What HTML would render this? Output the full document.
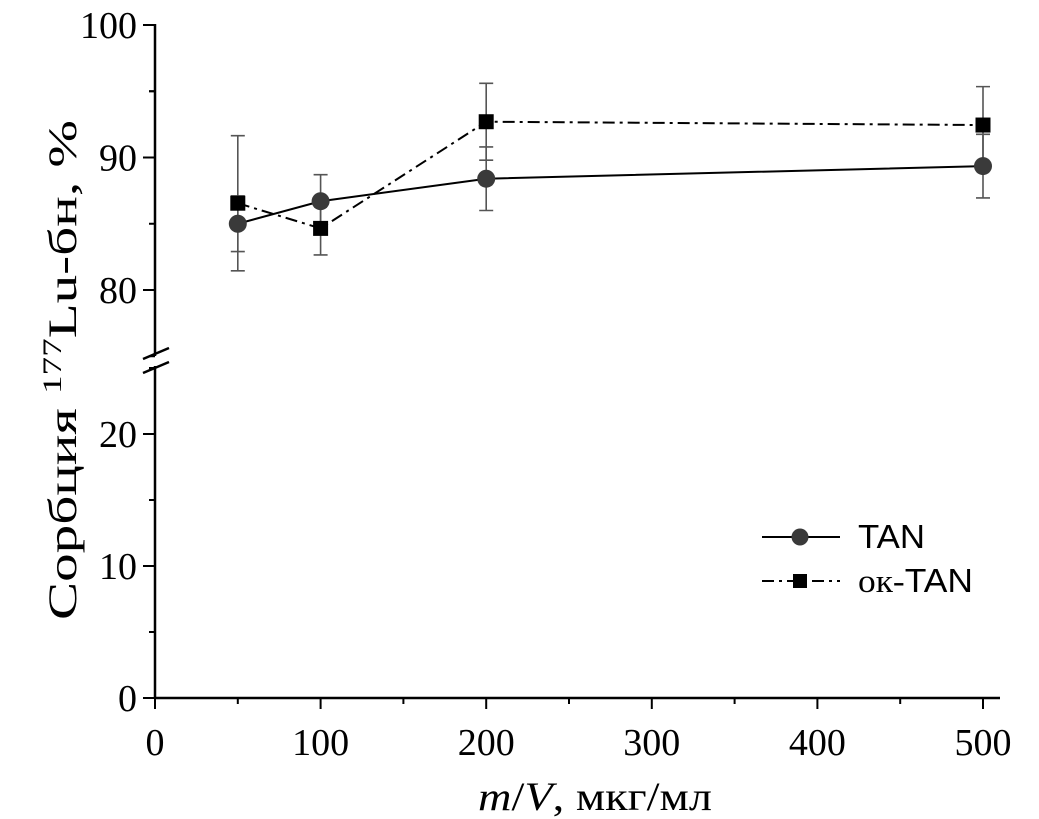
<!DOCTYPE html>
<html><head><meta charset="utf-8"><style>
html,body{margin:0;padding:0;background:#fff;}
svg{display:block;font-family:"Liberation Serif","DejaVu Serif",serif;}
</style></head><body>
<svg id="chart" width="1039" height="819" viewBox="0 0 1039 819" xmlns="http://www.w3.org/2000/svg">
<g id="axes"></g>
<g id="series"></g>
<text x="478" y="810" font-size="40" textLength="234" lengthAdjust="spacingAndGlyphs"><tspan font-style="italic">m</tspan>/<tspan font-style="italic">V</tspan>, мкг/мл</text>
<text transform="translate(76,620) rotate(-90)" font-size="40" textLength="500" lengthAdjust="spacingAndGlyphs">Сорбция <tspan font-size="26" dy="-15">177</tspan><tspan dy="15">Lu-бн, %</tspan></text>
<g>
<g>
<line x1="762" y1="537" x2="840" y2="537" stroke="#000" stroke-width="2"/>
<circle cx="800" cy="537" r="8.5" fill="#3a3a3a"/>
<text x="858" y="548" font-size="33" font-family="Liberation Sans, sans-serif" textLength="67" lengthAdjust="spacingAndGlyphs">TAN</text>
</g>
<g>
<line x1="762" y1="581" x2="840" y2="581" stroke="#000" stroke-width="2" stroke-dasharray="12,5,3,5"/>
<rect x="793" y="574" width="14" height="14" fill="#000"/>
<text x="858" y="592" font-size="33" textLength="115" lengthAdjust="spacingAndGlyphs">ок-<tspan font-family="Liberation Sans, sans-serif">TAN</tspan></text>
</g>
</g>
</svg>
<script>
const categories=[50,100,200,500];
const tanValues=[85.0,86.7,88.4,89.35];
const tanErrors=[2.1,2.0,2.4,2.4];
const okTanValues=[86.55,84.65,92.7,92.45];
const okTanErrors=[5.1,2.0,2.9,2.9];
const xTicks=[0,100,200,300,400,500];
const yTicksLow=[0,10,20];
const yTicksHigh=[80,90,100];

const NS="http://www.w3.org/2000/svg";
function xs(v){return 155+v*1.656;}
function ys(v){return v>=50?290-(v-80)*13.25:698-v*13.2;}
function mk(tag,attrs,parent){const e=document.createElementNS(NS,tag);for(const k in attrs)e.setAttribute(k,attrs[k]);parent.appendChild(e);return e;}
const axes=document.getElementById('axes');
const ser=document.getElementById('series');
let l=mk('line',{x1:155,y1:698,x2:1000,y2:698,stroke:'#000','stroke-width':2.5},axes);


l=mk('line',{x1:155,y1:24,x2:155,y2:356,stroke:'#000','stroke-width':2.5},axes);


l=mk('line',{x1:155,y1:366,x2:155,y2:698,stroke:'#000','stroke-width':2.5},axes);


l=mk('path',{d:'M143,359 L169,348 M143,373 L169,362',stroke:'#000','stroke-width':2.5,fill:'none'},axes);


xTicks.forEach(t=>{
  const x=xs(t);
  let tk=mk('line',{x1:x,y1:698,x2:x,y2:709,stroke:'#000','stroke-width':2},axes);
  
  
  if(t<500){let m=mk('line',{x1:xs(t+50),y1:698,x2:xs(t+50),y2:704,stroke:'#000','stroke-width':2},axes);
  
  }
  let tx=mk('text',{x:x,y:755,'font-size':38,'text-anchor':'middle'},axes);
  tx.textContent=t;
  
  
});
function yt(t,minor){
  const y=ys(t);
  let tk=mk('line',{x1:143,y1:y,x2:155,y2:y,stroke:'#000','stroke-width':2},axes);
  
  
  let tx=mk('text',{x:137,y:y+13,'font-size':38,'text-anchor':'end'},axes);
  tx.textContent=t;
  
  
  let m=mk('line',{x1:149,y1:ys(t+minor),x2:155,y2:ys(t+minor),stroke:'#000','stroke-width':2},axes);
  
  
}
yTicksLow.forEach(t=>yt(t,5));
yTicksHigh.forEach(t=>{if(t<100)yt(t,5);else{yt(t,-5);}});
let mm=mk('line',{x1:149,y1:ys(75),x2:155,y2:ys(75),stroke:'#000','stroke-width':2},axes);


let mm2=mk('line',{x1:149,y1:ys(25),x2:155,y2:ys(25),stroke:'#000','stroke-width':2},axes);



function errs(vals,errsA,name){
  categories.forEach((c,i)=>{
    const x=xs(c),t=ys(vals[i]+errsA[i]),b=ys(vals[i]-errsA[i]);
    let g=mk('path',{d:`M${x},${t}V${b}M${x-7},${t}H${x+7}M${x-7},${b}H${x+7}`,stroke:'#555','stroke-width':1.6,fill:'none'},ser);
    
    
  });
}
errs(okTanValues,okTanErrors,'ok-tan');
errs(tanValues,tanErrors,'tan');
let p=mk('polyline',{points:categories.map((c,i)=>xs(c)+','+ys(tanValues[i])).join(' '),fill:'none',stroke:'#000','stroke-width':2},ser);


p=mk('polyline',{points:categories.map((c,i)=>xs(c)+','+ys(okTanValues[i])).join(' '),fill:'none',stroke:'#000','stroke-width':2,'stroke-dasharray':'12,5,3,5'},ser);


categories.forEach((c,i)=>{
  let cc=mk('circle',{cx:xs(c),cy:ys(tanValues[i]),r:9,fill:'#3a3a3a'},ser);
  
  
  let r=mk('rect',{x:xs(c)-7.5,y:ys(okTanValues[i])-7.5,width:15,height:15,fill:'#000'},ser);
  
  
});
</script>
</body></html>
